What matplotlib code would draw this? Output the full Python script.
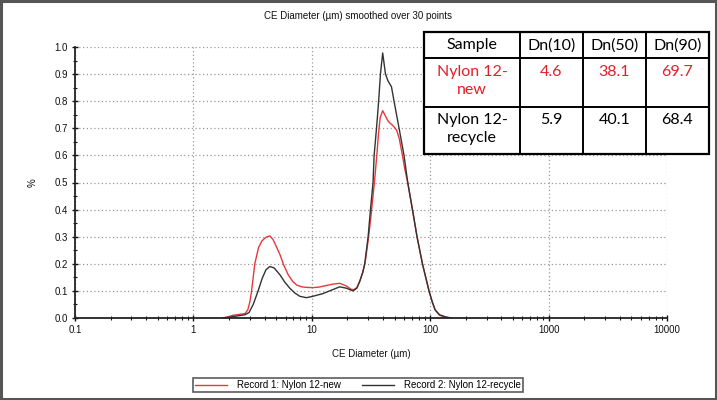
import matplotlib
matplotlib.use("Agg")
import matplotlib.pyplot as plt
from matplotlib.patches import Rectangle
from matplotlib.ticker import LogLocator, NullFormatter, MultipleLocator
import numpy as np

# ---- data ----
new_size = [1.75, 1.95, 2.15, 2.4, 2.72, 2.88, 3.0, 3.1, 3.3, 3.55, 3.8, 4.1, 4.42, 4.7, 5.0,
            5.37, 5.8, 6.31, 6.9, 7.43, 8.2, 9.0, 10.2, 11.5, 13.3, 15.1, 17.2, 19.6, 21.5,
            22.5, 24, 25.4, 27, 28.3, 30, 31.5, 33.8, 35.4, 36.6, 37.8, 39.7, 41.9, 44.0,
            45.5, 47.1, 49.5, 51.9, 54.6, 58.3, 61, 64.6, 70.8, 77.4, 86.0, 97.7, 104, 110,
            120, 135, 150]
new_val = [0.0, 0.004, 0.010, 0.013, 0.016, 0.03, 0.06, 0.10, 0.20, 0.26, 0.285, 0.298, 0.303,
           0.29, 0.265, 0.235, 0.195, 0.16, 0.135, 0.122, 0.115, 0.113, 0.112, 0.114, 0.120,
           0.125, 0.128, 0.118, 0.106, 0.104, 0.112, 0.135, 0.17, 0.21, 0.29, 0.37, 0.50,
           0.60, 0.68, 0.74, 0.765, 0.745, 0.727, 0.72, 0.715, 0.705, 0.694, 0.665, 0.60,
           0.55, 0.50, 0.40, 0.30, 0.20, 0.10, 0.06, 0.03, 0.01, 0.003, 0.0]

rec_size = [1.75, 2.0, 2.3, 2.72, 2.95, 3.2, 3.52, 3.8, 4.1, 4.42, 4.8, 5.37, 5.9, 6.52, 7.2,
            7.92, 9.02, 10.2, 12.4, 15.1, 17.2, 19.6, 22.3, 24, 25.4, 27, 28, 29.9, 31.3,
            32.9, 33.6, 35.2, 36.7, 38.0, 39.7, 41.9, 44, 47.1, 49.5, 54.6, 60.1, 64.6, 70.8,
            77.4, 86.0, 97.7, 104, 110, 120, 135, 150]
rec_val = [0.0, 0.003, 0.007, 0.012, 0.02, 0.05, 0.10, 0.145, 0.178, 0.190, 0.185, 0.16, 0.133,
           0.11, 0.092, 0.08, 0.075, 0.08, 0.09, 0.105, 0.115, 0.11, 0.10, 0.11, 0.135, 0.17,
           0.20, 0.30, 0.40, 0.50, 0.60, 0.70, 0.80, 0.90, 0.978, 0.90, 0.875, 0.853, 0.80,
           0.70, 0.60, 0.50, 0.40, 0.30, 0.20, 0.10, 0.06, 0.03, 0.012, 0.004, 0.0]

x_ticks = [0.1, 1, 10, 100, 1000, 10000]
x_tick_labels = ["0.1", "1", "10", "100", "1000", "10000"]
y_ticks = [0.0, 0.1, 0.2, 0.3, 0.4, 0.5, 0.6, 0.7, 0.8, 0.9, 1.0]

table_header = ["Sample", "Dn(10)", "Dn(50)", "Dn(90)"]
table_rows = [["Nylon 12-\nnew", "4.6", "38.1", "69.7"],
              ["Nylon 12-\nrecycle", "5.9", "40.1", "68.4"]]
legend_labels = ["Record 1: Nylon 12-new", "Record 2: Nylon 12-recycle"]

RED = "#e8383c"
BLACK = "#333333"
TABLE_RED = "#e3202a"
TXT = "#111111"

W, H = 717, 400
plt.rcParams["font.family"] = ["Liberation Sans", "DejaVu Sans"]
fig = plt.figure(figsize=(W / 100, H / 100), dpi=100)
fig.patch.set_facecolor("white")

L, R, T, B = 75, 667, 47, 318
ax = fig.add_axes([L / W, 1 - B / H, (R - L) / W, (B - T) / H])
ax.set_xscale("log")
ax.set_xlim(0.1, 10000)
ax.set_ylim(0, 1.0)

l1, = ax.plot(new_size, new_val, color=RED, lw=1.0, zorder=3)
l2, = ax.plot(rec_size, rec_val, color=BLACK, lw=1.0, zorder=3)

ax.set_xticks(x_ticks)
ax.set_xticklabels(x_tick_labels)
ax.xaxis.set_minor_locator(LogLocator(base=10, subs=np.arange(2, 10)))
ax.xaxis.set_minor_formatter(NullFormatter())
ax.set_yticks(y_ticks)
ax.set_yticklabels([f"{v:.1f}" for v in y_ticks])
ax.yaxis.set_minor_locator(MultipleLocator(0.05))

ax.tick_params(which="major", direction="inout", length=4, width=1, labelsize=7, colors=TXT, pad=3)
ax.tick_params(which="minor", direction="inout", length=3, width=0.8, colors=TXT)
ax.tick_params(axis="y", which="both", right=False)
ax.tick_params(axis="x", which="both", top=False)

ax.grid(True, which="major", linestyle=(0, (1, 2)), color="#9a9a9a", lw=0.9)
for s in ["top", "right"]:
    ax.spines[s].set_visible(False)
for s in ["left", "bottom"]:
    ax.spines[s].set_linewidth(1.3)
    ax.spines[s].set_color("#222222")
    ax.spines[s].set_zorder(4)

ax.set_xlabel("CE Diameter (µm)", fontsize=7, labelpad=10, color=TXT)
ax.set_ylabel("%", fontsize=7, labelpad=12, color=TXT)
fig.text(358 / W, 1 - 16 / H, "CE Diameter (µm) smoothed over 30 points", fontsize=7,
         ha="center", va="center", color=TXT)

# ---- legend ----
leg = fig.legend([l1, l2], legend_labels, loc="center", bbox_to_anchor=(358 / W, 1 - 385 / H),
                 ncol=2, fontsize=7, frameon=True, fancybox=False, edgecolor="#333333",
                 handlelength=3.3, handletextpad=1.0, columnspacing=2.2, borderpad=0.2,
                 borderaxespad=0)
leg.get_frame().set_linewidth(1.2)

# ---- table (drawn in figure pixel coordinates) ----
def px(x, y):
    return (x / W, 1 - y / H)

col_edges = [424, 520, 583, 646, 709]
row_edges = [32, 58, 107, 154]
tx = fig.transFigure
x0, y0 = px(col_edges[0], row_edges[-1])
x1, y1 = px(col_edges[-1], row_edges[0])
fig.patches.append(Rectangle((x0, y0), x1 - x0, y1 - y0, transform=tx, facecolor="white",
                             edgecolor="black", lw=1.6, zorder=5))
for c in col_edges[1:-1]:
    fig.lines.append(plt.Line2D([c / W, c / W], [y0, y1], transform=tx, color="black", lw=1.4, zorder=6))
for r in row_edges[1:-1]:
    fig.lines.append(plt.Line2D([x0, x1], [1 - r / H, 1 - r / H], transform=tx, color="black", lw=1.4, zorder=6))

tfont = dict(fontsize=11.5, family=["Lato", "DejaVu Sans"], zorder=7)
for i, h in enumerate(table_header):
    cx = (col_edges[i] + col_edges[i + 1]) / 2
    fig.text(*px(cx, 45.5), h, ha="center", va="center", color="black", **tfont)
row_tops = [65, 113]
row_colors = [TABLE_RED, "black"]
for r, row in enumerate(table_rows):
    for i, v in enumerate(row):
        cx = (col_edges[i] + col_edges[i + 1]) / 2
        fig.text(*px(cx, row_tops[r]), v, ha="center", va="top", color=row_colors[r],
                 linespacing=1.35, **tfont)

# ---- outer frame ----
fig.patches.append(Rectangle((0.0015, 0.003), 0.997, 0.994, transform=tx, facecolor="none",
                             edgecolor="#555555", lw=2.2, zorder=10))

fig.savefig("out.png", dpi=100)
